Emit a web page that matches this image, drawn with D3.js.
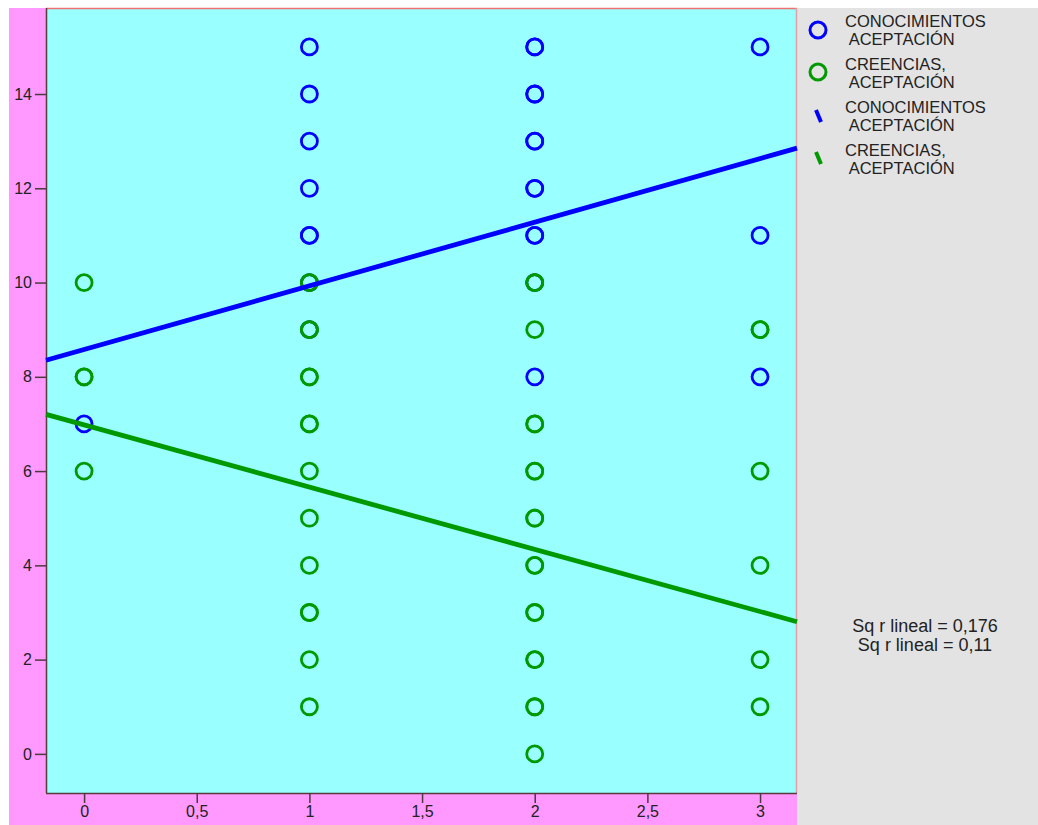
<!DOCTYPE html>
<html><head><meta charset="utf-8">
<script src="https://cdn.jsdelivr.net/npm/d3@7"></script>
<style>body{margin:0;background:#fff}svg{display:block}text{font-family:"Liberation Sans",Arial,sans-serif}</style>
</head><body><svg id="c" width="1038" height="825"></svg>
<script>
// Data
const seriesNames = ["CONOCIMIENTOS\n ACEPTACIÓN", "CREENCIAS,\n ACEPTACIÓN"];
const fitIntercept = [8.58, 6.98];
const fitSlope = [1.35, -1.32];
const rsqLabels = ["Sq r lineal = 0,176", "Sq r lineal = 0,11"];
const xTicks = [0, 0.5, 1, 1.5, 2, 2.5, 3];
const yTicks = [0, 2, 4, 6, 8, 10, 12, 14];
const colors = ["#0000ff", "#009900"];

// CONOCIMIENTOS points (x, y pairs; repeated pairs are overlapping cases)
const conoc = [
  [0,7],
  [1,15],[1,14],[1,13],[1,12],[1,11],[1,11],[1,10],[1,9],
  [2,15],[2,15],[2,14],[2,14],[2,13],[2,13],[2,12],[2,12],[2,11],[2,11],[2,10],[2,8],
  [3,15],[3,11],[3,8]
];
// CREENCIAS points
const creen = [
  [0,10],[0,8],[0,8],[0,6],
  [1,10],[1,10],[1,9],[1,9],[1,8],[1,8],[1,7],[1,7],[1,6],[1,5],[1,4],[1,3],[1,3],[1,2],[1,1],
  [2,10],[2,10],[2,9],[2,7],[2,7],[2,6],[2,6],[2,5],[2,5],[2,4],[2,4],[2,3],[2,3],[2,2],[2,2],[2,1],[2,1],[2,0],
  [3,9],[3,9],[3,6],[3,4],[3,2],[3,1]
];

const svg = d3.select("#c");
const L = 46, R = 797, T = 8, B = 793;
const x = d3.scaleLinear().domain([-0.169, 3.164]).range([L, R]);
const y = d3.scaleLinear().domain([-0.83, 15.825]).range([B, T]);
const FONT = '"Liberation Sans",Arial,sans-serif';

// backgrounds
svg.append("rect").attr("x", 9).attr("y", T).attr("width", R - 9).attr("height", 825 - T).attr("fill", "#ff99ff");
svg.append("rect").attr("x", R).attr("y", T).attr("width", 1038 - R).attr("height", 825 - T).attr("fill", "#e3e3e3");
svg.append("rect").attr("x", L).attr("y", T).attr("width", R - L).attr("height", B - T).attr("fill", "#99ffff");
svg.append("line").attr("x1", L).attr("x2", R).attr("y1", T + 0.5).attr("y2", T + 0.5).attr("stroke", "#f07070").attr("stroke-width", 1.5);
svg.append("line").attr("x1", R - 0.5).attr("x2", R - 0.5).attr("y1", T).attr("y2", B).attr("stroke", "#e0a0a8").attr("stroke-width", 1.5);

// axes
const xAxis = d3.axisBottom(x).tickValues(xTicks).tickSize(10).tickPadding(3)
  .tickFormat(d => String(d).replace(".", ","));
const gx = svg.append("g").attr("transform", `translate(0,${B})`).call(xAxis);
const yAxis = d3.axisLeft(y).tickValues(yTicks).tickSize(11).tickPadding(3);
const gy = svg.append("g").attr("transform", `translate(${L},0)`).call(yAxis);
[gx, gy].forEach(g => {
  g.selectAll(".domain").attr("stroke", "#5a3a3a").attr("stroke-width", 1.5);
  g.selectAll(".tick line").attr("stroke", "#4a3a40").attr("stroke-width", 1.5);
  g.selectAll("text").attr("fill", "#222").style("font-size", "16px").style("font-family", FONT);
});
gx.select(".domain").attr("d", `M${L},0.5H${R}`);
gy.select(".domain").attr("d", `M0.5,${T}V${B}`);

const plot = svg.append("g");
plot.selectAll(".c").data(conoc).enter().append("circle")
  .attr("cx", d => x(d[0])).attr("cy", d => y(d[1])).attr("r", 8)
  .attr("fill", "none").attr("stroke", colors[0]).attr("stroke-width", 2.8);
plot.selectAll(".g").data(creen).enter().append("circle")
  .attr("cx", d => x(d[0])).attr("cy", d => y(d[1])).attr("r", 8)
  .attr("fill", "none").attr("stroke", colors[1]).attr("stroke-width", 2.8);

// fit lines
const xd = x.domain();
fitIntercept.forEach((b, i) => {
  plot.append("line")
    .attr("x1", x(xd[0])).attr("y1", y(b + fitSlope[i] * xd[0]))
    .attr("x2", x(xd[1])).attr("y2", y(b + fitSlope[i] * xd[1]))
    .attr("stroke", colors[i]).attr("stroke-width", 4.8);
});

// legend
const lg = svg.append("g");
const legendItems = [
  {type: "circle", c: 0, y: 30, ty: 27}, {type: "circle", c: 1, y: 72, ty: 70},
  {type: "line", c: 0, y: 116, ty: 113}, {type: "line", c: 1, y: 158, ty: 156}
];
legendItems.forEach(it => {
  if (it.type === "circle") {
    lg.append("circle").attr("cx", 818).attr("cy", it.y).attr("r", 8)
      .attr("fill", "none").attr("stroke", colors[it.c]).attr("stroke-width", 3);
  } else {
    lg.append("line").attr("x1", 816).attr("y1", it.y - 6).attr("x2", 821).attr("y2", it.y + 6)
      .attr("stroke", colors[it.c]).attr("stroke-width", 4);
  }
  seriesNames[it.c].split("\n").forEach((t, k) => {
    lg.append("text").attr("x", 845).attr("y", it.ty + k * 18)
      .attr("fill", "#222").style("font-size", "16.5px").style("white-space", "pre")
      .attr("xml:space", "preserve").text(t);
  });
});
rsqLabels.forEach((t, i) => {
  svg.append("text").attr("x", 925).attr("y", 632 + i * 19).attr("text-anchor", "middle")
    .attr("fill", "#222").style("font-size", "18px").text(t);
});
</script></body></html>
